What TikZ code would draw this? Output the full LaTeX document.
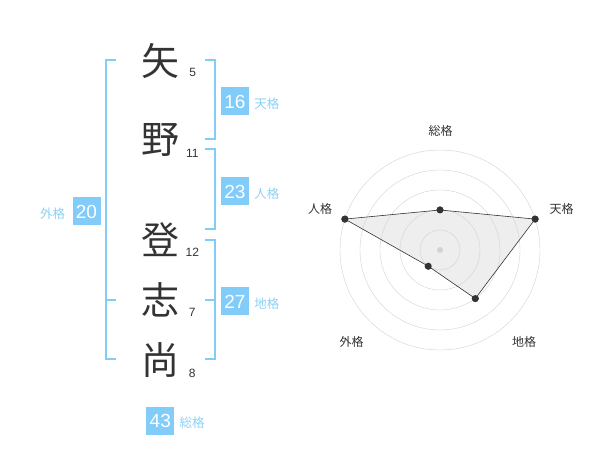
\documentclass[tikz,border=0pt]{standalone}
\usepackage{fontspec}
\setmainfont{Liberation Sans}
\newfontfamily\jpfont{Noto Sans CJK JP}
\usetikzlibrary{positioning}
\definecolor{kakuao}{RGB}{130,204,250}
\definecolor{kakumei}{RGB}{140,208,246}
\definecolor{sumi}{RGB}{51,51,51}
\definecolor{ringgray}{RGB}{210,210,210}
\definecolor{areagray}{RGB}{238,238,238}

\tikzset{
  moji/.style={inner sep=0pt, text=sumi, font=\jpfont\fontsize{38}{38}\selectfont},
  kakusu/.style={inner sep=0pt, text=sumi, font=\fontsize{12}{12}\selectfont},
  kakubox/.style={fill=kakuao, inner sep=0pt, minimum size=28pt, text=white, font=\fontsize{19}{19}\selectfont},
  kakuname/.style={inner sep=0pt, text=kakumei, font=\jpfont\fontsize{12.5}{12.5}\selectfont},
  kakko/.style={draw=kakuao, line width=2pt},
  axisname/.style={inner sep=0pt, text=sumi, font=\jpfont\fontsize{12}{12}\selectfont},
  pt/.style={circle, fill=sumi, inner sep=0pt, minimum size=7pt}
}

\begin{document}
\begin{tikzpicture}[x=1pt, y=-1pt]
      \useasboundingbox (0,0) rectangle (600,470);

      % name and strokes
      \node[moji] (c1) at (160,61) {矢};
      \node[moji] (c2) at (160,140) {野};
      \node[moji] (c3) at (160,240) {登};
      \node[moji] (c4) at (160,300) {志};
      \node[moji] (c5) at (160,360) {尚};

      \node[kakusu] (n1) at (192.7,72.7) {5};
      \node[kakusu] (n2) at (192.3,153.3) {11};
      \node[kakusu] (n3) at (192.3,252.7) {12};
      \node[kakusu] (n4) at (192.3,312.7) {7};
      \node[kakusu] (n5) at (192.3,373.3) {8};

      % brackets
      \draw[kakko] (116,60) -- (106,60) -- (106,359.5) -- (116,359.5);
      \draw[kakko] (106,300) -- (116,300);

      \draw[kakko] (205,60) -- (214.5,60) -- (214.5,139.5) -- (205,139.5);
      \draw[kakko] (205,149.5) -- (214.5,149.5) -- (214.5,229.5) -- (205,229.5);
      \draw[kakko] (205,240) -- (214.5,240) -- (214.5,359.5) -- (205,359.5);
      \draw[kakko] (205,300) -- (214.5,300);

      % five fortunes
      \node[kakubox] (ten) at (235,101.5) {16};
      \node[kakuname, right=5pt of ten, yshift=-2.5pt] (tenname) {天格};

      \node[kakubox] (jin) at (235,191.5) {23};
      \node[kakuname, right=5pt of jin, yshift=-2.5pt] (jinname) {人格};

      \node[kakubox] (chi) at (235,301.5) {27};
      \node[kakuname, right=5pt of chi, yshift=-2.5pt] (chiname) {地格};

      \node[kakubox] (gai) at (86.5,211.5) {20};
      \node[kakuname, left=7pt of gai, yshift=-2.5pt] (gainame) {外格};

      \node[kakubox] (sou) at (160.3,420.5) {43};
      \node[kakuname, right=5pt of sou, yshift=-2.5pt] (souname) {総格};

      % radar chart
      \begin{scope}[shift={(440,250)}, y=1pt]
        \node[pt] (psou) at (90:40) {};
        \node[pt] (pten) at (18:100) {};
        \node[pt] (pchi) at (-54:60) {};
        \node[pt] (pgai) at (-126:20) {};
        \node[pt] (pjin) at (162:100) {};

        \fill[areagray] (psou.center) -- (pten.center) -- (pchi.center) -- (pgai.center) -- (pjin.center) -- cycle;

        \draw[ringgray] (0,0) circle (20pt);
        \draw[ringgray] (0,0) circle (40pt);
        \draw[ringgray] (0,0) circle (60pt);
        \draw[ringgray] (0,0) circle (80pt);
        \draw[ringgray] (0,0) circle (100pt);
        \fill[ringgray] (0,0) circle (3pt);

        \draw[sumi, line width=0.6pt] (psou.center) -- (pten.center) -- (pchi.center) -- (pgai.center) -- (pjin.center) -- cycle;
        \node[pt] at (psou) {};
        \node[pt] at (pten) {};
        \node[pt] at (pchi) {};
        \node[pt] at (pgai) {};
        \node[pt] at (pjin) {};

        \node[axisname] (asou) at (0.7,119.5) {総格};
        \node[axisname] (aten) at (121.7,41.3) {天格};
        \node[axisname] (ajin) at (-120,41.3) {人格};
        \node[axisname] (agai) at (-88.3,-92) {外格};
        \node[axisname] (achi) at (84,-92) {地格};
      \end{scope}
\end{tikzpicture}
\end{document}
